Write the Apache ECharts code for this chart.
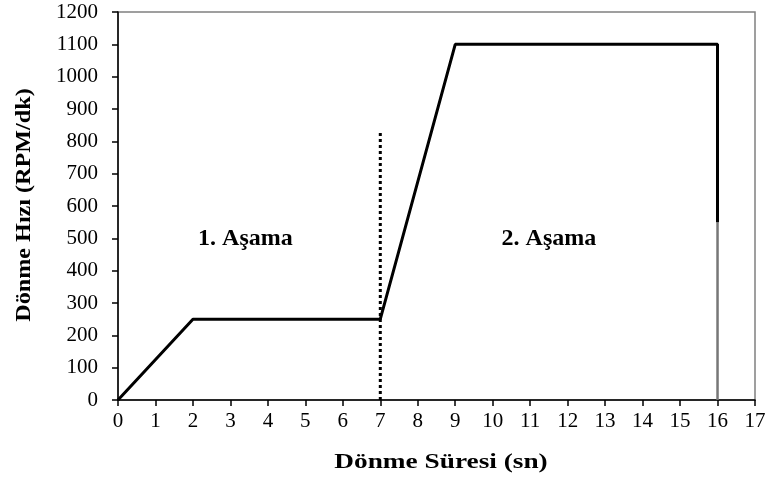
<!DOCTYPE html>
<html>
<head>
<meta charset="utf-8">
<script src="https://cdn.jsdelivr.net/npm/echarts@6/dist/echarts.min.js"></script>
<style>
  html, body { margin: 0; padding: 0; background: #fff; }
  #chart { width: 773px; height: 479px; }
</style>
</head>
<body>
<div id="chart"></div>
<script>
// Speed profile: time (s) vs rotation speed (RPM)
const profileTime  = [0, 2, 7, 9, 16, 16];
const profileSpeed = [0, 250, 250, 1100, 1100, 550];
// lower part of the stop at t = 16 s
const stopTime  = [16, 16];
const stopSpeed = [550, 0];
// stage boundary
const boundaryTime  = [7, 7];
const boundarySpeed = [0, 830];
// stage labels
const stageNames = ['1. Aşama', '2. Aşama'];
const stageTime  = [3.4, 11.5];
const stageSpeed = [500, 500];
// axis titles
const xTitle = 'Dönme Süresi (sn)';
const yTitle = 'Dönme Hızı (RPM/dk)';

const FONT = '"Liberation Serif", "Times New Roman", serif';

const pairs = (xs, ys) => xs.map((x, i) => [x, ys[i]]);

const chart = echarts.init(document.getElementById('chart'));
chart.setOption({
  animation: false,
  grid: {
    left: 118, top: 12, right: 18, bottom: 79,
    show: true, borderColor: '#808080', borderWidth: 1.5, backgroundColor: '#fff'
  },
  xAxis: {
    type: 'value', min: 0, max: 17, interval: 1,
    axisLine: { show: true, onZero: false, lineStyle: { color: '#000', width: 1.5 } },
    axisTick: { show: true, length: 6, lineStyle: { color: '#000', width: 1.5 } },
    axisLabel: { fontFamily: FONT, fontSize: 21, color: '#000', margin: 11, formatter: v => String(v) },
    splitLine: { show: false }
  },
  yAxis: {
    type: 'value', min: 0, max: 1200, interval: 100,
    axisLine: { show: true, onZero: false, lineStyle: { color: '#000', width: 1.5 } },
    axisTick: { show: true, length: 6, lineStyle: { color: '#000', width: 1.5 } },
    axisLabel: { fontFamily: FONT, fontSize: 21, color: '#000', margin: 20, formatter: v => String(v) },
    splitLine: { show: false }
  },
  graphic: [
    {
      type: 'text', x: 441, y: 463, scaleX: 1.3,
      style: {
        text: xTitle, font: 'bold 21px ' + FONT, fill: '#000',
        textAlign: 'center', textVerticalAlign: 'middle'
      }
    },
    {
      type: 'text', x: 25, y: 205, rotation: Math.PI / 2, scaleX: 1.15,
      style: {
        text: yTitle, font: 'bold 21px ' + FONT, fill: '#000',
        textAlign: 'center', textVerticalAlign: 'middle'
      }
    }
  ],
  series: [
    {
      type: 'line', data: pairs(stopTime, stopSpeed), symbol: 'none',
      lineStyle: { color: '#777', width: 2.5 }, z: 3
    },
    {
      type: 'line', data: pairs(boundaryTime, boundarySpeed), symbol: 'none',
      lineStyle: { color: '#000', width: 3, type: [3, 3] }, z: 3
    },
    {
      type: 'line', data: pairs(profileTime, profileSpeed), symbol: 'none',
      lineStyle: { color: '#000', width: 3 }, z: 4
    },
    {
      type: 'scatter', data: pairs(stageTime, stageSpeed), symbolSize: 0,
      itemStyle: { opacity: 1 },
      label: {
        show: true, position: 'inside', opacity: 1,
        formatter: p => stageNames[p.dataIndex],
        fontFamily: FONT, fontSize: 24, fontWeight: 'bold', color: '#000'
      },
      z: 5
    }
  ]
});
</script>
</body>
</html>
